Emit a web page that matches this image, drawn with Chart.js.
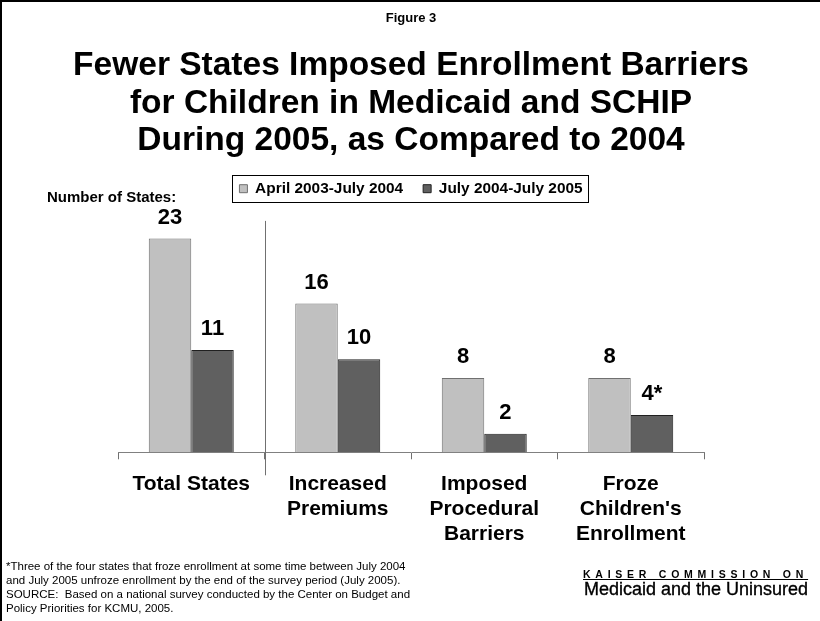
<!DOCTYPE html>
<html><head><meta charset="utf-8">
<script src="https://cdn.jsdelivr.net/npm/chart.js@4/dist/chart.umd.min.js"></script>
<style>
html,body{margin:0;padding:0;background:#fff;}
#wrap{position:relative;width:820px;height:621px;overflow:hidden;background:#fff;}
#c{position:absolute;left:0;top:0;}
#edgeL{position:absolute;left:0;top:0;width:2px;height:621px;background:#000;}
#edgeT{position:absolute;left:0;top:0;width:820px;height:2px;background:#000;}
#fig{position:absolute;left:0;top:10px;width:822px;text-align:center;font:bold 13px 'Liberation Sans',Arial,sans-serif;line-height:16px;color:#000;}
#title{position:absolute;left:0;top:45px;width:822px;text-align:center;font:bold 33.5px 'Liberation Sans',Arial,sans-serif;line-height:37.5px;color:#000;white-space:nowrap;}
#yname{position:absolute;left:47px;top:188px;font:bold 15px 'Liberation Sans',Arial,sans-serif;color:#000;white-space:nowrap;}
#note{position:absolute;left:6px;top:559px;font:11.5px 'Liberation Sans',Arial,sans-serif;line-height:14px;color:#000;white-space:nowrap;}
#logo1{position:absolute;left:583px;top:568px;font:bold 10.5px 'Liberation Sans',Arial,sans-serif;letter-spacing:4.75px;text-decoration:underline;color:#000;white-space:nowrap;}
#logo2{position:absolute;left:583px;top:579px;width:226px;text-align:center;font:18px 'Liberation Sans',Arial,sans-serif;-webkit-text-stroke:0.35px #000;color:#000;white-space:nowrap;}
</style></head>
<body>
<div id="wrap">
<canvas id="c" width="820" height="621"></canvas>
<div id="edgeL"></div>
<div id="edgeT"></div>
<div id="fig"></div>
<div id="title"></div>
<div id="yname">Number of States:</div>
<div id="note">*Three of the four states that froze enrollment at some time between July 2004<br>and July 2005 unfroze enrollment by the end of the survey period (July 2005).<br>SOURCE:&nbsp; Based on a national survey conducted by the Center on Budget and<br>Policy Priorities for KCMU, 2005.</div>
<div id="logo1">KAISER COMMISSION ON</div>
<div id="logo2">Medicaid and the Uninsured</div>
</div>
<script>
const figureLabel = 'Figure 3';
const titleLines = ['Fewer States Imposed Enrollment Barriers', 'for Children in Medicaid and SCHIP', 'During 2005, as Compared to 2004'];
const categories = [['Total States'], ['Increased', 'Premiums'], ['Imposed', 'Procedural', 'Barriers'], ['Froze', "Children's", 'Enrollment']];
const seriesNames = ['April 2003-July 2004', 'July 2004-July 2005'];
const period1 = [23, 16, 8, 8];
const period2 = [11, 10, 2, 4];
const period1Marks = ['', '', '', ''];
const period2Marks = ['', '', '', '*'];

document.getElementById('fig').textContent = figureLabel;
(function () {
  const t = document.getElementById('title');
  titleLines.forEach((line, i) => {
    if (i) t.appendChild(document.createElement('br'));
    t.appendChild(document.createTextNode(line));
  });
})();

const FONT = "'Liberation Sans', Arial, sans-serif";

const valueLabels = {
  id: 'valueLabels',
  afterDatasetsDraw(chart) {
    const ctx = chart.ctx;
    const marks = [period1Marks, period2Marks];
    ctx.save();
    ctx.font = 'bold 22px ' + FONT;
    ctx.fillStyle = '#000';
    ctx.textAlign = 'center';
    ctx.textBaseline = 'middle';
    chart.data.datasets.forEach((ds, i) => {
      chart.getDatasetMeta(i).data.forEach((bar, j) => {
        ctx.fillText(String(ds.data[j]) + marks[i][j], bar.x, bar.y - 21);
      });
    });
    ctx.restore();
  }
};

const separator = {
  id: 'separator',
  afterDraw(chart) {
    const xs = chart.scales.x;
    const x = Math.round((xs.getPixelForValue(0) + xs.getPixelForValue(1)) / 2) + 0.5;
    const ctx = chart.ctx;
    ctx.save();
    ctx.strokeStyle = '#707070';
    ctx.lineWidth = 1;
    ctx.beginPath();
    ctx.moveTo(x, chart.chartArea.top + 1);
    ctx.lineTo(x, chart.chartArea.bottom + 23);
    ctx.stroke();
    ctx.restore();
  }
};

const legendFrame = {
  id: 'legendFrame',
  beforeInit(chart) {
    const lg = chart.legend;
    if (lg && !lg._extraGap) {
      const origFit = lg.fit;
      lg.fit = function () { origFit.call(this); this.height += 13.5; };
      lg._extraGap = true;
    }
  },
  afterDraw(chart) {
    const boxes = chart.legend && chart.legend.legendHitBoxes;
    if (!boxes || !boxes.length) return;
    let l = Infinity, r = -Infinity, t = Infinity, b = -Infinity;
    boxes.forEach(h => { l = Math.min(l, h.left); r = Math.max(r, h.left + h.width); t = Math.min(t, h.top); b = Math.max(b, h.top + h.height); });
    const ctx = chart.ctx;
    ctx.save();
    ctx.strokeStyle = '#000';
    ctx.lineWidth = 1;
    ctx.strokeRect(Math.round(l - 7) + 0.5, Math.round(t - 6) + 0.5, Math.round(r - l + 13), Math.round(b - t + 12));
    ctx.restore();
  }
};

new Chart(document.getElementById('c'), {
  type: 'bar',
  data: {
    labels: categories,
    datasets: [
      { label: seriesNames[0], data: period1, backgroundColor: '#C0C0C0', borderColor: '#707070', borderWidth: 1 },
      { label: seriesNames[1], data: period2, backgroundColor: '#606060', borderColor: '#202020', borderWidth: 1 }
    ]
  },
  options: {
    responsive: false,
    animation: false,
    devicePixelRatio: 1,
    categoryPercentage: 0.58,
    barPercentage: 1.0,
    layout: { padding: { left: 118, right: 116, top: 161, bottom: 62 } },
    plugins: {
      title: { display: false },
      subtitle: { display: false },
      legend: {
        display: true,
        position: 'top',
        labels: { color: '#000', font: { family: FONT, size: 15.4, weight: 'bold' }, boxWidth: 8, boxHeight: 8, padding: 20 }
      },
      tooltip: { enabled: false }
    },
    scales: {
      x: {
        offset: true,
        grid: { display: true, offset: true, drawOnChartArea: false, drawTicks: true, tickLength: 7, color: '#707070' },
        border: { display: true, color: '#808080', width: 1 },
        ticks: { color: '#000', padding: 13, maxRotation: 0, autoSkip: false, font: { family: FONT, size: 21, weight: 'bold', lineHeight: 1.17 } }
      },
      y: { display: false, min: 0, max: 25 }
    }
  },
  plugins: [valueLabels, separator, legendFrame]
});
</script>
</body></html>
